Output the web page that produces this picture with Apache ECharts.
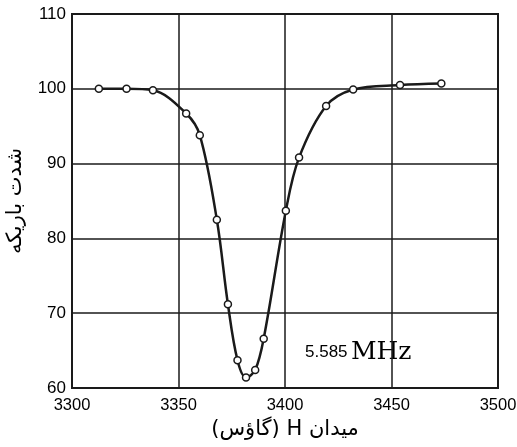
<!DOCTYPE html>
<html>
<head>
<meta charset="utf-8">
<script src="https://cdn.jsdelivr.net/npm/echarts@6/dist/echarts.min.js"></script>
<style>html,body{margin:0;padding:0;background:#fff;}#c{width:517px;height:447px;}</style>
</head>
<body>
<div id="c"></div>
<script>
var fieldH = [3312.6, 3325.6, 3338, 3353.6, 3360, 3368, 3373.2, 3377.7, 3381.7, 3386, 3390, 3400.4, 3406.6, 3419.3, 3432, 3454, 3473.4];
var intensity = [100, 100, 99.8, 96.7, 93.8, 82.5, 71.2, 63.7, 61.4, 62.4, 66.6, 83.7, 90.8, 97.7, 99.9, 100.5, 100.7];
var xTicks = [3300, 3350, 3400, 3450, 3500];
var yTicks = [60, 70, 80, 90, 100, 110];
var xName = '\u202Bمیدان H (گاؤس)\u202C';
var yName = 'شدت باریکه';
var freqValue = '5.585';
var freqUnit = 'MHz';

var pts = fieldH.map(function (x, i) { return [x, intensity[i]]; });
var chart = echarts.init(document.getElementById('c'));
var lineC = '#1a1a1a';
chart.setOption({
  animation: false,
  backgroundColor: '#fff',
  grid: { left: 72, right: 19, top: 14, bottom: 59, containLabel: false, outerBoundsMode: 'none' },
  xAxis: {
    type: 'value', min: xTicks[0], max: xTicks[xTicks.length - 1], interval: 50,
    name: xName, nameLocation: 'middle', nameGap: 29,
    nameTextStyle: { fontFamily: 'DejaVu Sans', fontSize: 21, color: '#000' },
    axisLine: { lineStyle: { color: lineC, width: 2 } },
    axisTick: { show: false },
    axisLabel: { fontFamily: 'Liberation Sans', fontSize: 16.5, color: '#000', margin: 9, formatter: function (v) { return String(v); } },
    splitLine: { lineStyle: { color: lineC, width: 1.5 } }
  },
  yAxis: {
    type: 'value', min: yTicks[0], max: yTicks[yTicks.length - 1], interval: 10,
    name: yName, nameLocation: 'middle', nameGap: 46,
    nameTextStyle: { fontFamily: 'DejaVu Sans', fontSize: 21, color: '#000' },
    axisLine: { show: true, lineStyle: { color: lineC, width: 2 } },
    axisTick: { show: false },
    axisLabel: { fontFamily: 'Liberation Sans', fontSize: 17, color: '#000', margin: 6, formatter: function (v) { return String(v); } },
    splitLine: { lineStyle: { color: lineC, width: 1.5 } }
  },
  graphic: [
    { type: 'rect', shape: { x: 72, y: 14, width: 426, height: 374 }, style: { fill: 'none', stroke: lineC, lineWidth: 2 }, silent: true, z: 1 },
    { type: 'text', left: 305, top: 340, style: { text: '{a|' + freqValue + '} {b|' + freqUnit + '}', rich: { a: { fontFamily: 'Liberation Sans', fontSize: 17, fill: '#000' }, b: { fontFamily: 'DejaVu Serif', fontSize: 25, fill: '#000' } } } }
  ],
  series: [{
    type: 'line', data: pts, smooth: 0.35,
    symbol: 'circle', symbolSize: 7,
    lineStyle: { color: lineC, width: 2.5 },
    itemStyle: { color: '#fff', borderColor: lineC, borderWidth: 1.5 },
    z: 5
  }]
});
</script>
</body>
</html>
